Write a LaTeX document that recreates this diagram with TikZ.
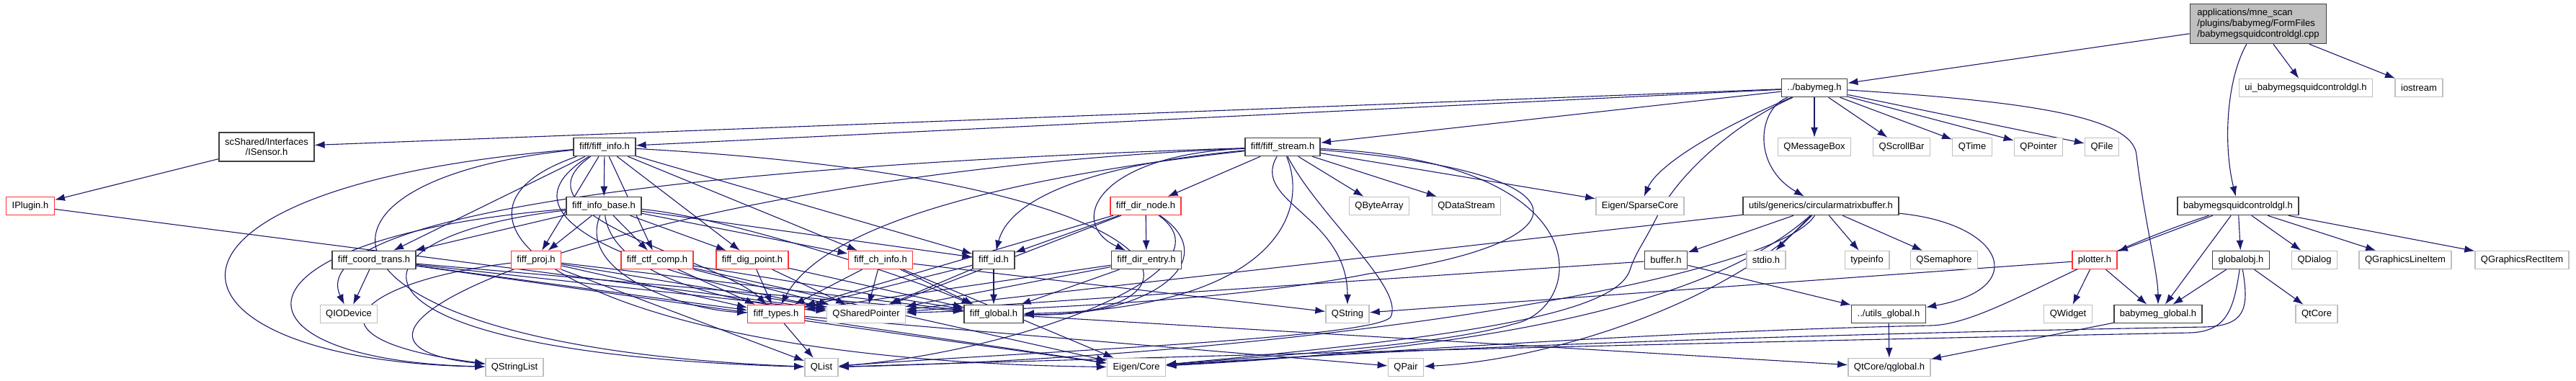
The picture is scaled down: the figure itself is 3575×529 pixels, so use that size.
\documentclass[tikz,border=0pt]{standalone}
\usepackage{fontspec}
\setmainfont{Liberation Sans}
\usetikzlibrary{arrows.meta}
\definecolor{edgeblue}{HTML}{191970}
\definecolor{boxgray}{HTML}{BFBFBF}
\definecolor{boxred}{HTML}{FF3333}
\definecolor{boxdark}{HTML}{404040}
\pgfdeclarelayer{bg}
\pgfsetlayers{bg,main}

\begin{document}
\begin{tikzpicture}[x=0.5pt,y=-0.5pt,
  every node/.style={font=\fontsize{6.5}{7.35}\selectfont, inner xsep=4pt, inner ysep=1pt, minimum height=12.5pt, fill=white},
  dbox/.style={draw=boxdark, line width=0.8pt},
  rbox/.style={draw=boxred, line width=0.7pt},
  gbox/.style={draw=boxgray, line width=0.7pt},
  edge/.style={draw=edgeblue, line width=0.55pt, -{Latex[length=7pt,width=5pt]}}]
\useasboundingbox (0,0) rectangle (3575,529);
% row 0 and 1
\node[dbox, fill=boxgray, align=left, inner xsep=5pt, minimum height=27.5pt] (main) at (3134,33) {applications/mne\_scan\\/plugins/babymeg/FormFiles\\/babymegsquidcontroldgl.cpp};
\node[dbox] (babymeg) at (2518,122) {../babymeg.h};
\node[gbox] (ui) at (3200,122) {ui\_babymegsquidcontroldgl.h};
\node[gbox] (iostream) at (3357,122) {iostream};
% row 2
\node[dbox, align=center, minimum height=20pt] (isensor) at (370,204) {scShared/Interfaces\\/ISensor.h};
\node[dbox] (finfo) at (839,204) {fiff/fiff\_info.h};
\node[dbox] (fstream) at (1780,204) {fiff/fiff\_stream.h};
\node[gbox] (qmsg) at (2518,204) {QMessageBox};
\node[gbox] (qscroll) at (2639,204) {QScrollBar};
\node[gbox] (qtime) at (2737,204) {QTime};
\node[gbox] (qpointer) at (2829,204) {QPointer};
\node[gbox] (qfile) at (2917,204) {QFile};
% row 3
\node[rbox] (iplugin) at (42,286) {IPlugin.h};
\node[dbox] (fib) at (838,286) {fiff\_info\_base.h};
\node[rbox] (fdnode) at (1590,286) {fiff\_dir\_node.h};
\node[gbox] (qbyte) at (1914,286) {QByteArray};
\node[gbox] (qdata) at (2035,286) {QDataStream};
\node[gbox] (sparse) at (2276,286) {Eigen/SparseCore};
\node[dbox] (cmb) at (2527,286) {utils/generics/circularmatrixbuffer.h};
\node[dbox] (bsq) at (3106,286) {babymegsquidcontroldgl.h};
% row 4
\node[dbox] (fct) at (519,361) {fiff\_coord\_trans.h};
\node[rbox] (fproj) at (744,361) {fiff\_proj.h};
\node[rbox] (fctf) at (912,361) {fiff\_ctf\_comp.h};
\node[rbox] (fdig) at (1044,361) {fiff\_dig\_point.h};
\node[rbox] (fch) at (1222,361) {fiff\_ch\_info.h};
\node[dbox] (fid) at (1379,361) {fiff\_id.h};
\node[dbox] (fdentry) at (1591,361) {fiff\_dir\_entry.h};
\node[dbox] (buffer) at (2312,361) {buffer.h};
\node[gbox] (stdio) at (2451,361) {stdio.h};
\node[gbox] (typeinfo) at (2591,361) {typeinfo};
\node[gbox] (qsem) at (2698,361) {QSemaphore};
\node[rbox] (plotter) at (2907,361) {plotter.h};
\node[dbox] (globalobj) at (3110,361) {globalobj.h};
\node[gbox] (qdialog) at (3212,361) {QDialog};
\node[gbox] (qgli) at (3338,361) {QGraphicsLineItem};
\node[gbox] (qgri) at (3500,361) {QGraphicsRectItem};
% row 5
\node[gbox] (qiodev) at (484,436) {QIODevice};
\node[rbox] (ftypes) at (1077,436) {fiff\_types.h};
\node[gbox] (qsp) at (1202,436) {QSharedPointer};
\node[dbox] (fglobal) at (1379,436) {fiff\_global.h};
\node[gbox] (qstring) at (1870,436) {QString};
\node[dbox] (uglobal) at (2621,436) {../utils\_global.h};
\node[gbox] (qwidget) at (2870,436) {QWidget};
\node[dbox] (bmglobal) at (2995,436) {babymeg\_global.h};
\node[gbox] (qtcore) at (3215,436) {QtCore};
% row 6
\node[gbox] (qstrl) at (714,510) {QStringList};
\node[gbox] (qlist) at (1140,510) {QList};
\node[gbox] (eigen) at (1577,510) {Eigen/Core};
\node[gbox] (qpair) at (1951,510) {QPair};
\node[gbox] (qglobal) at (2622,510) {QtCore/qglobal.h};
\begin{pgfonlayer}{bg}
% includes of the cpp file
\draw[edge] (main) -- (babymeg);
\draw[edge] (main) -- (ui);
\draw[edge] (main) -- (iostream);
\draw[edge] (main) .. controls (3090,110) and (3085,200) .. (bsq);
% babymeg.h
\draw[edge] (babymeg) -- (isensor);
\draw[edge] (babymeg) -- (finfo);
\draw[edge] (babymeg) -- (fstream);
\draw[edge] (babymeg) -- (qmsg);
\draw[edge] (babymeg) -- (qscroll);
\draw[edge] (babymeg) -- (qtime);
\draw[edge] (babymeg) -- (qpointer);
\draw[edge] (babymeg) -- (qfile);
\draw[edge] (babymeg) .. controls (2380,180) and (2300,230) .. (sparse);
\draw[edge] (babymeg) .. controls (2440,150) and (2430,230) .. (cmb);
\draw[edge] (babymeg) .. controls (2410,170) and (2330,240) .. (2300,300) .. controls (2280,340) and (2270,350) .. (2262,375) .. controls (2240,440) and (2000,470) .. (eigen);
\draw[edge] (babymeg) .. controls (2800,140) and (2960,160) .. (2965,215) .. controls (2975,300) and (2995,380) .. (bmglobal);
\draw[edge] (isensor) -- (iplugin);
\draw[edge] (iplugin) -- (qsp);
% fiff_info.h
\draw[edge] (finfo) -- (fib);
\draw[edge] (finfo) -- (fct);
\draw[edge] (finfo) -- (fproj);
\draw[edge] (finfo) -- (fctf);
\draw[edge] (finfo) -- (fdig);
\draw[edge] (finfo) -- (fch);
\draw[edge] (finfo) -- (fid);
\draw[edge] (finfo) .. controls (700,300) and (1000,360) .. (ftypes);
\draw[edge] (finfo) .. controls (1680,250) and (1700,440) .. (fglobal);
\draw[edge] (finfo) .. controls (650,320) and (1000,400) .. (qsp);
\draw[edge] (finfo) .. controls (380,250) and (400,480) .. (qlist);
\draw[edge] (finfo) .. controls (150,260) and (200,500) .. (qstrl);
\draw[edge] (finfo) .. controls (560,300) and (800,500) .. (eigen);
% fiff_info_base.h
\draw[edge] (fib) -- (fct);
\draw[edge] (fib) -- (fproj);
\draw[edge] (fib) -- (fctf);
\draw[edge] (fib) -- (fdig);
\draw[edge] (fib) -- (fch);
\draw[edge] (fib) -- (fid);
\draw[edge] (fib) .. controls (800,380) and (950,430) .. (ftypes);
\draw[edge] (fib) .. controls (1000,300) and (1250,380) .. (fglobal);
\draw[edge] (fib) .. controls (850,380) and (1000,420) .. (qsp);
\draw[edge] (fib) .. controls (300,330) and (300,500) .. (qstrl);
\draw[edge] (fib) .. controls (450,330) and (450,490) .. (qlist);
% fiff_coord_trans.h
\draw[edge] (fct) -- (qiodev);
\draw[edge] (fct) -- (ftypes);
\draw[edge] (fct) -- (qsp);
\draw[edge] (fct) -- (fglobal);
\draw[edge] (fct) -- (eigen);
% fiff_proj.h
\draw[edge] (fproj) -- (ftypes);
\draw[edge] (fproj) -- (qsp);
\draw[edge] (fproj) -- (fglobal);
\draw[edge] (fproj) .. controls (500,390) and (400,470) .. (qstrl);
\draw[edge] (fproj) -- (qlist);
% fiff_ctf_comp.h, fiff_dig_point.h, fiff_ch_info.h, fiff_id.h
\draw[edge] (fctf) -- (ftypes);
\draw[edge] (fctf) -- (qsp);
\draw[edge] (fctf) -- (fglobal);
\draw[edge] (fctf) -- (eigen);
\draw[edge] (fdig) -- (ftypes);
\draw[edge] (fdig) -- (qsp);
\draw[edge] (fdig) -- (fglobal);
\draw[edge] (fch) -- (ftypes);
\draw[edge] (fch) -- (qsp);
\draw[edge] (fch) -- (fglobal);
\draw[edge] (fch) -- (eigen);
\draw[edge] (fch) -- (qstring);
\draw[edge] (fid) -- (ftypes);
\draw[edge] (fid) -- (qsp);
\draw[edge] (fid) -- (fglobal);
% fiff_dir_node.h, fiff_dir_entry.h
\draw[edge] (fdnode) -- (fid);
\draw[edge] (fdnode) -- (fdentry);
\draw[edge] (fdnode) -- (ftypes);
\draw[edge] (fdnode) -- (qsp);
\draw[edge] (fdnode) .. controls (1700,360) and (1600,440) .. (fglobal);
\draw[edge] (fdnode) .. controls (1720,380) and (1400,490) .. (qlist);
\draw[edge] (fdentry) -- (ftypes);
\draw[edge] (fdentry) -- (qsp);
\draw[edge] (fdentry) -- (fglobal);
% fiff_stream.h
\draw[edge] (fstream) -- (fdnode);
\draw[edge] (fstream) .. controls (1500,230) and (1400,280) .. (fid);
\draw[edge] (fstream) .. controls (1520,215) and (1480,310) .. (fdentry);
\draw[edge] (fstream) .. controls (1450,240) and (1150,300) .. (ftypes);
\draw[edge] (fstream) .. controls (2230,240) and (2200,340) .. (1900,380) .. controls (1700,420) and (1400,430) .. (qsp);
\draw[edge] (fstream) .. controls (1820,300) and (1760,430) .. (fglobal);
\draw[edge] (fstream) -- (qbyte);
\draw[edge] (fstream) -- (qdata);
\draw[edge] (fstream) -- (sparse);
\draw[edge] (fstream) .. controls (1735,280) and (1870,300) .. (qstring);
\draw[edge] (fstream) .. controls (1830,300) and (1950,400) .. (1930,440) .. controls (1910,470) and (1400,490) .. (qlist);
\draw[edge] (fstream) .. controls (2230,225) and (2200,430) .. (2100,450) .. controls (2000,480) and (1750,495) .. (eigen);
\draw[edge] (fstream) .. controls (900,240) and (350,470) .. (qstrl);
\draw[edge] (fstream) .. controls (950,230) and (420,300) .. (qiodev);
% fiff_types.h and fiff_global.h
\draw[edge] (ftypes) -- (qlist);
\draw[edge] (ftypes) -- (eigen);
\draw[edge] (ftypes) -- (qpair);
\draw[edge] (fglobal) -- (qglobal);
% circularmatrixbuffer.h
\draw[edge] (cmb) -- (buffer);
\draw[edge] (cmb) -- (stdio);
\draw[edge] (cmb) -- (typeinfo);
\draw[edge] (cmb) -- (qsem);
\draw[edge] (cmb) .. controls (2780,310) and (2820,400) .. (uglobal);
\draw[edge] (cmb) -- (qsp);
\draw[edge] (cmb) .. controls (2400,400) and (2150,480) .. (eigen);
\draw[edge] (cmb) .. controls (2460,390) and (1800,495) .. (qlist);
\draw[edge] (cmb) .. controls (2400,420) and (2150,500) .. (qpair);
\draw[edge] (buffer) -- (uglobal);
\draw[edge] (buffer) -- (qsp);
\draw[edge] (uglobal) -- (qglobal);
% babymegsquidcontroldgl.h
\draw[edge] (bsq) -- (plotter);
\draw[edge] (bsq) -- (bmglobal);
\draw[edge] (bsq) -- (globalobj);
\draw[edge] (bsq) -- (qdialog);
\draw[edge] (bsq) -- (qgli);
\draw[edge] (bsq) -- (qgri);
\draw[edge] (bsq) .. controls (2880,360) and (2760,450) .. (2680,452) .. controls (2300,460) and (1900,490) .. (eigen);
\draw[edge] (plotter) -- (qwidget);
\draw[edge] (plotter) -- (bmglobal);
\draw[edge] (plotter) -- (qstring);
\draw[edge] (globalobj) -- (bmglobal);
\draw[edge] (globalobj) -- (qtcore);
\draw[edge] (globalobj) .. controls (3122,430) and (3115,452) .. (3060,454) .. controls (2600,462) and (2000,480) .. (eigen);
\draw[edge] (globalobj) .. controls (3100,430) and (3090,460) .. (3040,462) .. controls (2400,475) and (1800,490) .. (qlist);
\draw[edge] (bmglobal) -- (qglobal);
\end{pgfonlayer}
\end{tikzpicture}
\end{document}
